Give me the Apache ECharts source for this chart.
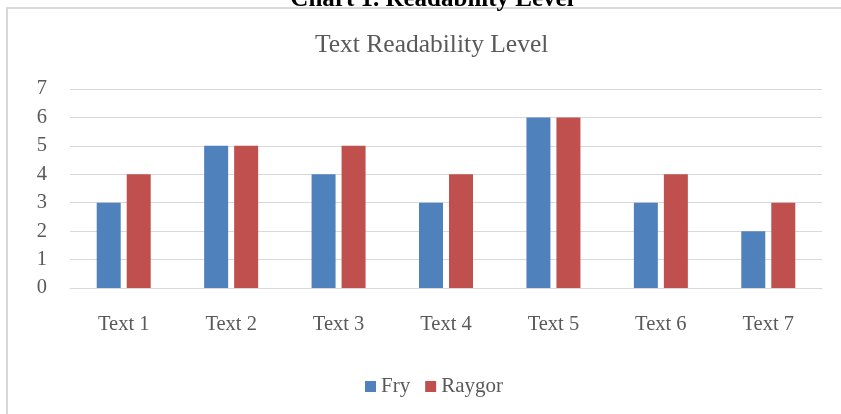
<!DOCTYPE html>
<html>
<head>
<meta charset="utf-8">
<script src="https://cdn.jsdelivr.net/npm/echarts@6/dist/echarts.min.js"></script>
<style>
  html, body { margin: 0; padding: 0; background: #fff; }
  #main { width: 841px; height: 414px; }
</style>
</head>
<body>
<div id="main"></div>
<script>
// chart data
const categories = ['Text 1', 'Text 2', 'Text 3', 'Text 4', 'Text 5', 'Text 6', 'Text 7'];
const fryValues = [3, 5, 4, 3, 6, 3, 2];
const raygorValues = [4, 5, 5, 4, 6, 4, 3];

const chart = echarts.init(document.getElementById('main'));
const serif = '"Liberation Serif", "Times New Roman", serif';

const option = {
  animation: false,
  textStyle: { fontFamily: serif },
  title: {
    text: 'Text Readability Level',
    left: 310,
    top: 27,
    textStyle: { fontFamily: serif, fontSize: 25.5, fontWeight: 'normal', color: '#595959' }
  },
  graphic: [
    {
      type: 'rect',
      shape: { x: 7, y: 8, width: 900, height: 500 },
      style: { fill: 'none', stroke: '#d9d9d9', lineWidth: 2 },
      silent: true
    },
    {
      type: 'text',
      x: 432,
      y: 12,
      style: {
        text: 'Chart 1. Readability Level',
        font: 'bold 25px ' + serif,
        fill: '#000',
        align: 'center',
        verticalAlign: 'bottom'
      }
    }
  ],
  legend: {
    bottom: 12,
    left: 360,
    itemWidth: 11,
    itemHeight: 11,
    itemGap: 15,
    icon: 'rect',
    textStyle: { fontFamily: serif, fontSize: 21, color: '#595959' },
    data: ['Fry', 'Raygor']
  },
  grid: { left: 70, right: 19, top: 89, bottom: 126, containLabel: false },
  xAxis: {
    type: 'category',
    data: categories,
    axisLine: { lineStyle: { color: '#d9d9d9', width: 1 } },
    axisTick: { show: false },
    axisLabel: { fontFamily: serif, fontSize: 20.5, color: '#595959', margin: 26 }
  },
  yAxis: {
    type: 'value',
    min: 0,
    max: 7,
    interval: 1,
    axisLine: { show: false },
    axisTick: { show: false },
    splitLine: { lineStyle: { color: '#d9d9d9', width: 1 } },
    axisLabel: { fontFamily: serif, fontSize: 20.5, color: '#595959', margin: 23 }
  },
  series: [
    {
      name: 'Fry',
      type: 'bar',
      data: fryValues,
      barWidth: 24,
      barGap: '25%',
      itemStyle: { color: '#4f81bd' }
    },
    {
      name: 'Raygor',
      type: 'bar',
      data: raygorValues,
      barWidth: 24,
      itemStyle: { color: '#c0504d' }
    }
  ]
};

chart.setOption(option);
</script>
</body>
</html>
